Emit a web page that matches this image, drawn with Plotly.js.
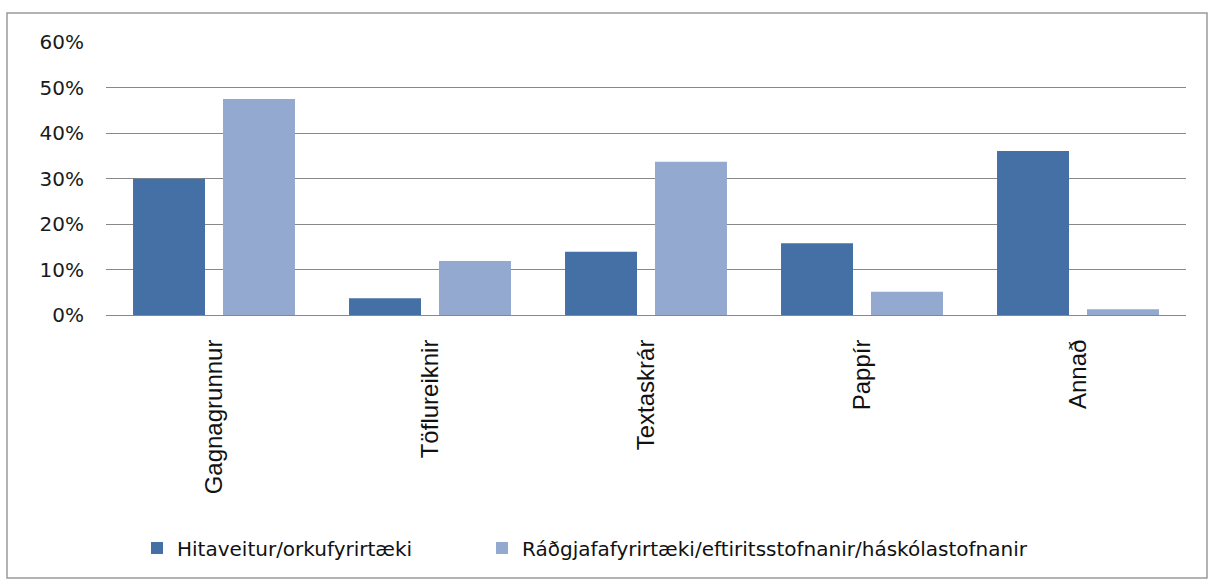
<!DOCTYPE html>
<html>
<head>
<meta charset="utf-8">
<script src="https://cdn.plot.ly/plotly-3.0.1.min.js"></script>
<style>
html,body{margin:0;padding:0;background:#fff;}
#chart{width:1214px;height:583px;}
</style>
</head>
<body>
<div id="chart"></div>
<script>
const categories = ["Gagnagrunnur", "Töflureiknir", "Textaskrár", "Pappír", "Annað"];
const seriesNames = ["Hitaveitur/orkufyrirtæki", "Ráðgjafafyrirtæki/eftiritsstofnanir/háskólastofnanir"];
const hitaveitur = [0.30, 0.037, 0.139, 0.158, 0.361];
const radgjafar = [0.475, 0.119, 0.337, 0.051, 0.0125];
const colors = ["#4470A6", "#93A9CF"];

const traces = [
  {type: "bar", name: seriesNames[0], x: categories, y: hitaveitur, marker: {color: colors[0]}, hoverinfo: "skip", legend: "legend"},
  {type: "bar", name: seriesNames[1], x: categories, y: radgjafar, marker: {color: colors[1]}, hoverinfo: "skip", legend: "legend2"}
];

const W = 1214, H = 583;
const L = 106, R = 28, T = 42, B = 268;
const pw = W - L - R, ph = H - T - B;
function px(x){ return (x - L) / pw; }
function py(y){ return (H - B - y) / ph; }

const legendFont = {family: "DejaVu Sans, sans-serif", size: 20, color: "#111111"};

const layout = {
  width: W, height: H,
  margin: {l: L, r: R, t: T, b: B, pad: 0},
  paper_bgcolor: "#ffffff",
  plot_bgcolor: "#ffffff",
  barmode: "group",
  bargap: 0.167,
  bargroupgap: 0.2,
  showlegend: true,
  xaxis: {
    type: "category",
    tickangle: -90,
    showgrid: false,
    showline: true,
    linecolor: "#888888",
    linewidth: 1,
    ticks: "",
    ticklabelstandoff: 14,
    tickfont: {family: "Liberation Sans, Arial, sans-serif", size: 24, color: "#111111"}
  },
  yaxis: {
    range: [0, 0.6006],
    dtick: 0.1,
    tickformat: ".0%",
    showgrid: true,
    gridcolor: "#888888",
    gridwidth: 1,
    zeroline: true,
    zerolinecolor: "#888888",
    zerolinewidth: 1,
    showline: false,
    ticks: "",
    ticklabelstandoff: 21,
    tickfont: {family: "DejaVu Sans, sans-serif", size: 20, color: "#1a1a1a"}
  },
  legend: {
    orientation: "h",
    x: px(137), xanchor: "left",
    y: py(548), yanchor: "middle",
    font: legendFont,
    itemwidth: 30,
    bgcolor: "rgba(0,0,0,0)"
  },
  legend2: {
    orientation: "h",
    x: px(482), xanchor: "left",
    y: py(548), yanchor: "middle",
    font: legendFont,
    itemwidth: 30,
    bgcolor: "rgba(0,0,0,0)"
  },
  shapes: [{
    type: "rect", xref: "paper", yref: "paper",
    x0: px(7), x1: px(1207), y0: py(578), y1: py(13),
    line: {color: "#9a9a9a", width: 1.5},
    fillcolor: "rgba(0,0,0,0)",
    layer: "below"
  }]
};

Plotly.newPlot("chart", traces, layout, {displayModeBar: false, staticPlot: true});
</script>
</body>
</html>
